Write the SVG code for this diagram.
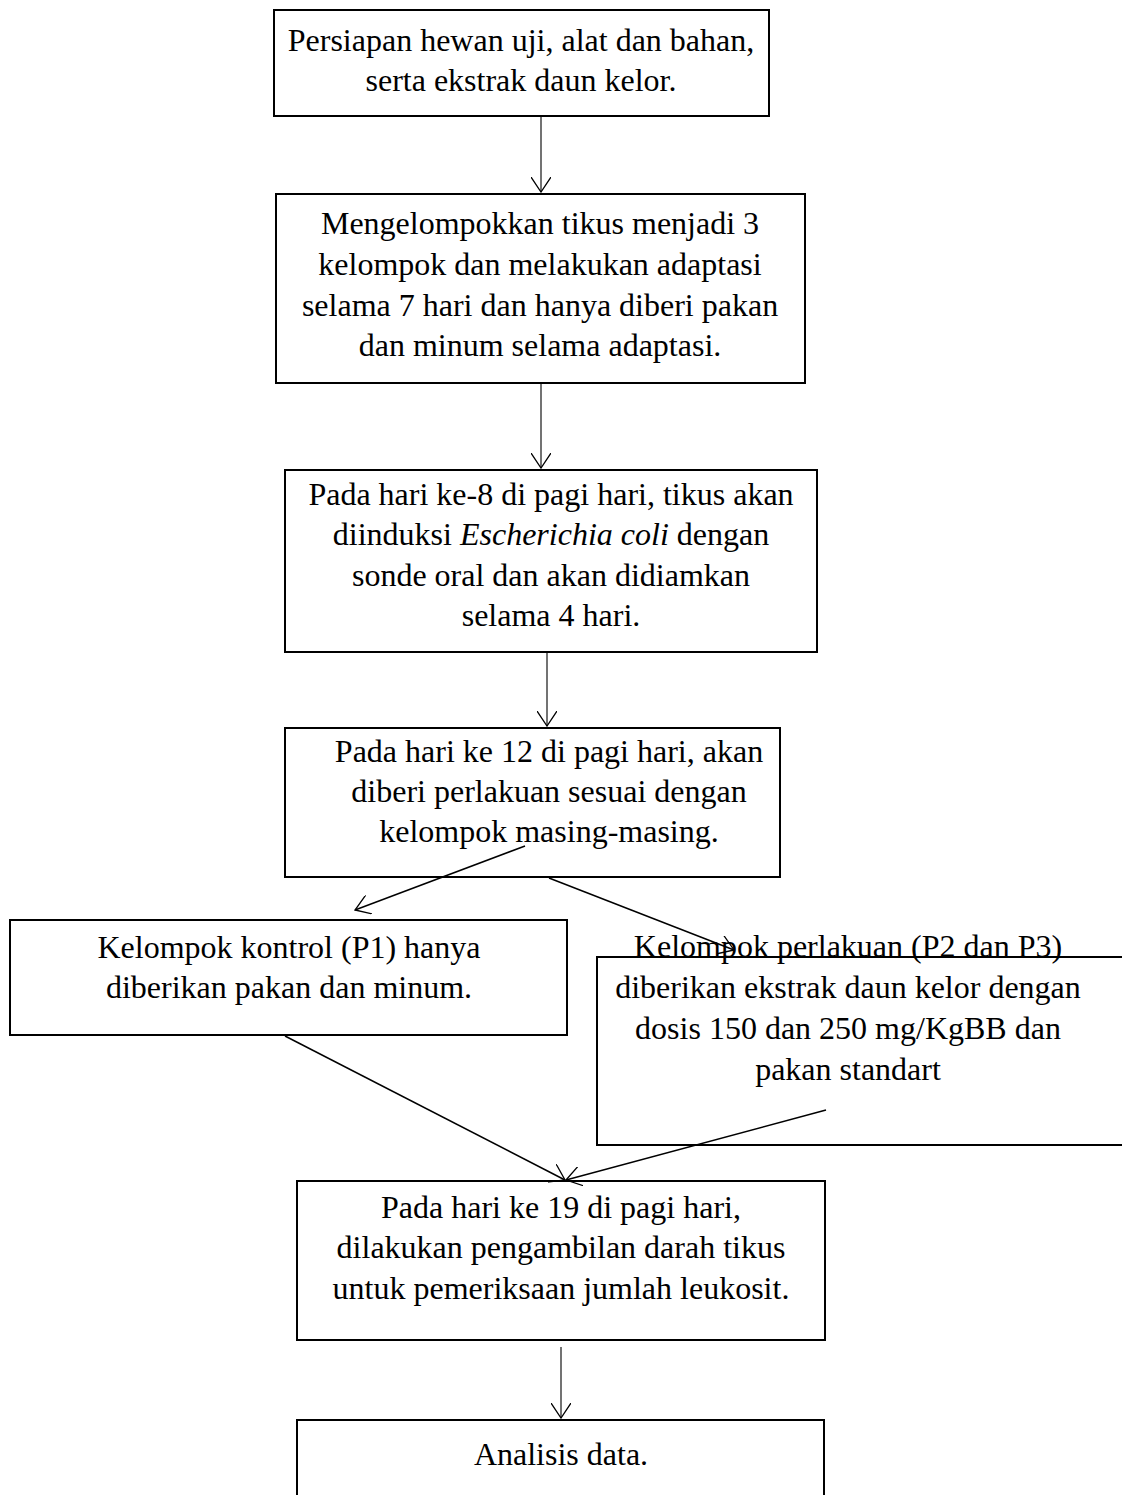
<svg xmlns="http://www.w3.org/2000/svg" width="1122" height="1495" viewBox="0 0 1122 1495">
<style>
.box{fill:#fff;stroke:#000;stroke-width:2}
.t{font-family:"Liberation Serif","Times New Roman",serif;font-size:32px;fill:#000;text-anchor:middle}
.v{stroke:#444;stroke-width:1.5;fill:none}
.d{stroke:#000;stroke-width:1.5;fill:none}
</style>
<defs>
<marker id="ah" markerUnits="userSpaceOnUse" viewBox="0 0 16 20" refX="15" refY="10" markerWidth="16" markerHeight="20" orient="auto">
<path d="M0,0 L15,10 L0,20" fill="none" stroke="#000" stroke-width="1.3"/>
</marker>
</defs>
<rect width="1122" height="1495" fill="#fff"/>
<g id="n1"><rect class="box" x="274" y="10" width="495" height="106"/>
<text class="t" x="521" y="51">Persiapan hewan uji, alat dan bahan,</text>
<text class="t" x="521" y="91">serta ekstrak daun kelor.</text></g>
<g id="n2"><rect class="box" x="276" y="194" width="529" height="189"/>
<text class="t" x="540" y="234">Mengelompokkan tikus menjadi 3</text>
<text class="t" x="540" y="275">kelompok dan melakukan adaptasi</text>
<text class="t" x="540" y="316">selama 7 hari dan hanya diberi pakan</text>
<text class="t" x="540" y="356">dan minum selama adaptasi.</text></g>
<g id="n3"><rect class="box" x="285" y="470" width="532" height="182"/>
<text class="t" x="551" y="505">Pada hari ke-8 di pagi hari, tikus akan</text>
<text class="t" x="551" y="545">diinduksi <tspan font-style="italic">Escherichia coli</tspan> dengan</text>
<text class="t" x="551" y="586">sonde oral dan akan didiamkan</text>
<text class="t" x="551" y="626">selama 4 hari.</text></g>
<g id="n4"><rect class="box" x="285" y="728" width="495" height="149"/>
<text class="t" x="549" y="762">Pada hari ke 12 di pagi hari, akan</text>
<text class="t" x="549" y="802">diberi perlakuan sesuai dengan</text>
<text class="t" x="549" y="842">kelompok masing-masing.</text></g>
<g id="n5"><rect class="box" x="10" y="920" width="557" height="115"/>
<text class="t" x="289" y="958">Kelompok kontrol (P1) hanya</text>
<text class="t" x="289" y="998">diberikan pakan dan minum.</text></g>
<g id="n6"><text class="t" x="848" y="957">Kelompok perlakuan (P2 dan P3)</text>
<rect x="597" y="957" width="540" height="188" style="fill:none;stroke:#000;stroke-width:2"/>
<text class="t" x="848" y="998">diberikan ekstrak daun kelor dengan</text>
<text class="t" x="848" y="1039">dosis 150 dan 250 mg/KgBB dan</text>
<text class="t" x="848" y="1080">pakan standart</text></g>
<g id="n7"><rect class="box" x="297" y="1181" width="528" height="159"/>
<text class="t" x="561" y="1218">Pada hari ke 19 di pagi hari,</text>
<text class="t" x="561" y="1258">dilakukan pengambilan darah tikus</text>
<text class="t" x="561" y="1299">untuk pemeriksaan jumlah leukosit.</text></g>
<g id="n8"><rect class="box" x="297" y="1420" width="527" height="90"/>
<text class="t" x="561" y="1465">Analisis data.</text></g>
<g id="connectors">
<line class="v" x1="541" y1="117" x2="541" y2="192" marker-end="url(#ah)"/>
<line class="v" x1="541" y1="384" x2="541" y2="468" marker-end="url(#ah)"/>
<line class="v" x1="547" y1="653" x2="547" y2="726" marker-end="url(#ah)"/>
<line class="d" x1="525" y1="846" x2="355" y2="910" marker-end="url(#ah)"/>
<line class="d" x1="549" y1="878" x2="734" y2="950" marker-end="url(#ah)"/>
<line class="d" x1="285" y1="1036" x2="565" y2="1180" marker-end="url(#ah)"/>
<line class="d" x1="826" y1="1110" x2="566" y2="1180" marker-end="url(#ah)"/>
<line class="v" x1="561" y1="1347" x2="561" y2="1418" marker-end="url(#ah)"/>
</g>
</svg>
